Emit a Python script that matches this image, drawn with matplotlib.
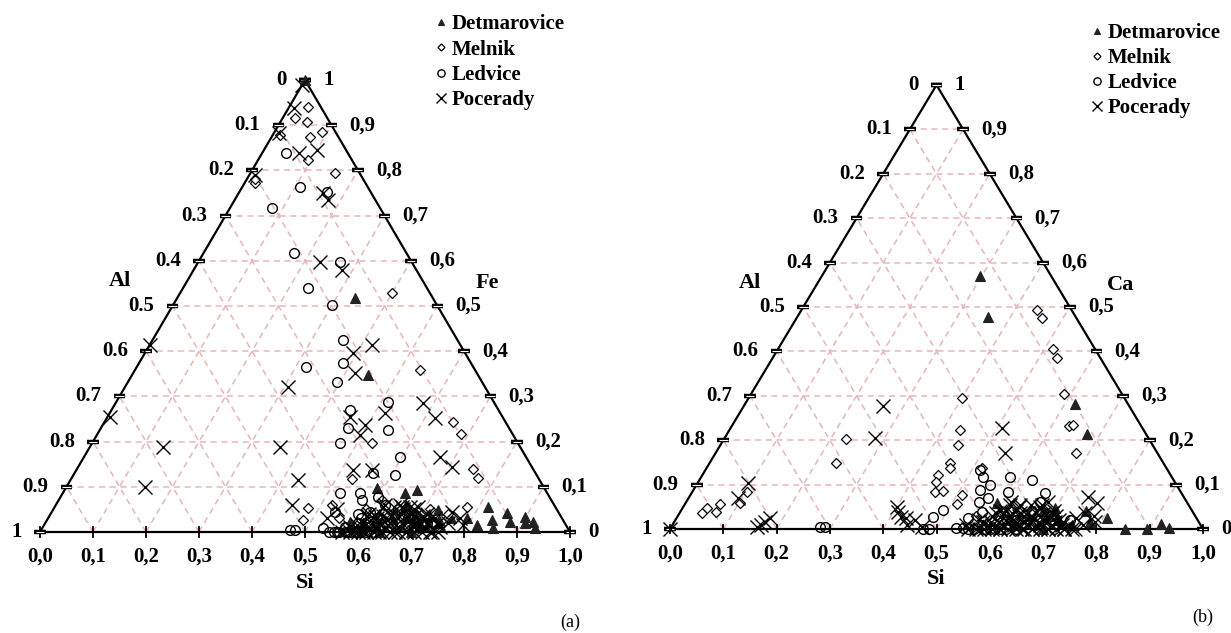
import numpy as np
import matplotlib
matplotlib.use("Agg")
import matplotlib.pyplot as plt
from matplotlib.lines import Line2D

plt.rcParams['font.family'] = ['Liberation Serif', 'DejaVu Serif']

# ---------------- data: (Si, Fe) fractions, panel (a) ----------------
det_a_si = [0.00, 0.335, 0.445, 0.574, 0.588, 0.646, 0.665, 0.727, 0.74, 0.818, 0.84, 0.86,
            0.876, 0.898, 0.905, 0.919, 0.93, 0.85, 0.79, 0.817,
            0.60, 0.62, 0.63, 0.65, 0.66, 0.68, 0.69, 0.71, 0.72, 0.74, 0.64, 0.67, 0.70, 0.61, 0.76]
det_a_fe = [1.00, 0.518, 0.347, 0.022, 0.097, 0.086, 0.093, 0.049, 0.027, 0.055, 0.027, 0.042,
            0.022, 0.033, 0.020, 0.022, 0.009, 0.009, 0.031, 0.015,
            0.02, 0.04, 0.01, 0.03, 0.06, 0.02, 0.04, 0.01, 0.03, 0.02, 0.00, 0.05, 0.00, 0.01, 0.03]

mel_a_si = [0.036, 0.05, 0.09, 0.072, 0.023, 0.094, 0.16, 0.02, 0.015, 0.014,
            0.40, 0.538, 0.658, 0.686, 0.748, 0.767, 0.528, 0.53, 0.48, 0.483, 0.778, 0.52,
            0.55, 0.57, 0.59, 0.61, 0.63, 0.65, 0.67, 0.69, 0.71, 0.73, 0.75, 0.62]
mel_a_fe = [0.94, 0.907, 0.885, 0.874, 0.916, 0.823, 0.794, 0.772, 0.78, 0.878,
            0.529, 0.358, 0.243, 0.217, 0.139, 0.119, 0.197, 0.117, 0.053, 0.027, 0.055, 0.06,
            0.03, 0.01, 0.05, 0.07, 0.03, 0.02, 0.04, 0.01, 0.05, 0.02, 0.04, 0.00]

led_a_si = [0.045, 0.11, 0.08, 0.166, 0.17, 0.236, 0.268, 0.30, 0.36, 0.32, 0.385, 0.394,
            0.513, 0.45, 0.466, 0.544, 0.468, 0.596, 0.607, 0.563, 0.523, 0.561, 0.572, 0.535,
            0.47, 0.48, 0.53, 0.60,
            0.56, 0.57, 0.58, 0.59, 0.60, 0.61, 0.62, 0.63, 0.64, 0.66, 0.68, 0.70, 0.72, 0.58, 0.65,
            0.545, 0.555, 0.565, 0.575, 0.585, 0.595, 0.605, 0.615, 0.59, 0.60, 0.62]
led_a_fe = [0.838, 0.763, 0.717, 0.752, 0.617, 0.54, 0.597, 0.502, 0.425, 0.365, 0.374, 0.332,
            0.288, 0.27, 0.23, 0.226, 0.197, 0.166, 0.126, 0.13, 0.086, 0.086, 0.071, 0.044,
            0.004, 0.004, 0.008, 0.077,
            0.00, 0.01, 0.00, 0.02, 0.00, 0.01, 0.03, 0.00, 0.02, 0.01, 0.03, 0.01, 0.02, 0.04, 0.05,
            0.00, 0.00, 0.00, 0.00, 0.00, 0.00, 0.00, 0.00, 0.03, 0.045, 0.06]

poc_a_si = [0.0, 0.01, 0.01, 0.07, 0.10, 0.01, 0.159, 0.176, 0.23, 0.28, 0.393, 0.419, 0.418,
            0.58, 0.619, 0.458, 0.495, 0.496, 0.52, 0.672, 0.705, 0.522, 0.558, 0.0, 0.005,
            0.138, 0.148, 0.307, 0.359, 0.43, 0.445, 0.755, 0.777, 0.79, 0.526, 0.536, 0.74, 0.75,
            0.58, 0.60, 0.61, 0.62, 0.63, 0.64, 0.65, 0.66, 0.67, 0.68, 0.69, 0.70, 0.71, 0.72,
            0.73, 0.74, 0.62, 0.64, 0.66, 0.68, 0.70, 0.72, 0.63, 0.65, 0.67, 0.69, 0.71, 0.60,
            0.75, 0.76,
            0.57, 0.585, 0.60, 0.615, 0.63, 0.645, 0.66, 0.675, 0.69, 0.705, 0.72, 0.735,
            0.59, 0.605, 0.62, 0.635, 0.65, 0.665, 0.68, 0.695, 0.71, 0.725,
            0.60, 0.615, 0.63, 0.645, 0.66, 0.675, 0.69, 0.705,
            0.62, 0.64, 0.655, 0.67, 0.685]
poc_a_fe = [0.99, 0.938, 0.883, 0.839, 0.845, 0.79, 0.75, 0.735, 0.597, 0.58, 0.396, 0.414, 0.352,
            0.285, 0.252, 0.254, 0.237, 0.215, 0.263, 0.166, 0.144, 0.137, 0.137, 0.414, 0.254,
            0.188, 0.10, 0.321, 0.188, 0.115, 0.06, 0.044, 0.031, 0.015, 0.031, 0.05, 0.02, 0.0,
            0.01, 0.02, 0.00, 0.03, 0.01, 0.04, 0.02, 0.05, 0.01, 0.03, 0.00, 0.02, 0.04, 0.01,
            0.03, 0.00, 0.06, 0.00, 0.03, 0.05, 0.01, 0.02, 0.02, 0.06, 0.00, 0.02, 0.03, 0.04,
            0.01, 0.02,
            0.00, 0.00, 0.00, 0.00, 0.00, 0.00, 0.00, 0.00, 0.00, 0.00, 0.00, 0.00,
            0.015, 0.015, 0.015, 0.015, 0.015, 0.015, 0.015, 0.015, 0.015, 0.015,
            0.035, 0.035, 0.035, 0.035, 0.035, 0.035, 0.035, 0.035,
            0.055, 0.055, 0.055, 0.055, 0.055]

# ---------------- data: (Si, Ca) fractions, panel (b) ----------------
det_b_si = [0.297, 0.358, 0.619, 0.675, 0.854, 0.895, 0.915, 0.935, 0.699, 0.807, 0.584,
            0.66, 0.72, 0.75, 0.64, 0.68, 0.78, 0.70, 0.62, 0.76]
det_b_ca = [0.57, 0.478, 0.282, 0.214, 0.0, 0.0, 0.011, 0.002, 0.047, 0.025, 0.059,
            0.03, 0.02, 0.01, 0.01, 0.04, 0.015, 0.0, 0.03, 0.04]

mel_b_si = [0.042, 0.046, 0.067, 0.066, 0.102, 0.103, 0.229, 0.237, 0.442, 0.46, 0.516, 0.533,
            0.40, 0.587, 0.633, 0.64, 0.676, 0.433, 0.446, 0.45, 0.456, 0.442, 0.446, 0.455,
            0.51, 0.51, 0.517, 0.47, 0.56, 0.62, 0.66, 0.70]
mel_b_ca = [0.036, 0.047, 0.038, 0.056, 0.059, 0.083, 0.203, 0.149, 0.493, 0.475, 0.405, 0.385,
            0.295, 0.304, 0.232, 0.234, 0.171, 0.223, 0.189, 0.149, 0.137, 0.122, 0.106, 0.083,
            0.077, 0.056, 0.137, 0.086, 0.03, 0.02, 0.04, 0.01]

led_b_si = [0.279, 0.288, 0.475, 0.485, 0.49, 0.48, 0.535, 0.548, 0.566, 0.547, 0.515, 0.529,
            0.538, 0.55, 0.561, 0.58, 0.593, 0.624, 0.663, 0.664, 0.55,
            0.58, 0.60, 0.62, 0.64, 0.66, 0.68, 0.70, 0.72, 0.74, 0.60,
            0.56, 0.57, 0.59, 0.61, 0.63, 0.65]
led_b_ca = [0.005, 0.005, 0.0, 0.0, 0.043, 0.027, 0.002, 0.002, 0.038, 0.025, 0.133, 0.117,
            0.088, 0.099, 0.07, 0.117, 0.083, 0.11, 0.081, 0.061, 0.06,
            0.01, 0.03, 0.0, 0.02, 0.04, 0.01, 0.03, 0.0, 0.02, 0.0,
            0.0, 0.0, 0.0, 0.0, 0.0, 0.0]

poc_b_si = [0.0, 0.094, 0.093, 0.165, 0.17, 0.175, 0.16, 0.261, 0.282, 0.409, 0.42, 0.43, 0.45,
            0.51, 0.543, 0.748, 0.771, 0.76, 0.78, 0.75, 0.79, 0.40, 0.44, 0.47,
            0.55, 0.57, 0.58, 0.59, 0.60, 0.61, 0.62, 0.63, 0.64, 0.65, 0.66, 0.67, 0.68, 0.69,
            0.70, 0.71, 0.72, 0.73, 0.74, 0.61, 0.63, 0.65, 0.67, 0.69, 0.71, 0.60, 0.62, 0.64,
            0.66, 0.68, 0.70, 0.76, 0.77,
            0.56, 0.575, 0.59, 0.605, 0.62, 0.635, 0.65, 0.665, 0.68, 0.695, 0.71, 0.725, 0.74, 0.755,
            0.58, 0.595, 0.61, 0.625, 0.64, 0.655, 0.67, 0.685, 0.70, 0.715, 0.73,
            0.595, 0.61, 0.625, 0.64, 0.655, 0.67, 0.685, 0.70,
            0.61, 0.63, 0.65, 0.67]
poc_b_ca = [0.0, 0.104, 0.07, 0.01, 0.016, 0.025, 0.005, 0.277, 0.205, 0.038, 0.027, 0.025, 0.02,
            0.227, 0.171, 0.072, 0.059, 0.036, 0.03, 0.025, 0.015, 0.05, 0.01, 0.005,
            0.01, 0.02, 0.00, 0.03, 0.01, 0.04, 0.02, 0.05, 0.01, 0.03, 0.00, 0.02, 0.06, 0.01,
            0.03, 0.00, 0.02, 0.01, 0.00, 0.06, 0.04, 0.01, 0.05, 0.02, 0.03, 0.04, 0.00, 0.03,
            0.02, 0.00, 0.04, 0.00, 0.01,
            0.00, 0.00, 0.00, 0.00, 0.00, 0.00, 0.00, 0.00, 0.00, 0.00, 0.00, 0.00, 0.00, 0.00,
            0.015, 0.015, 0.015, 0.015, 0.015, 0.015, 0.015, 0.015, 0.015, 0.015, 0.015,
            0.035, 0.035, 0.035, 0.035, 0.035, 0.035, 0.035, 0.035,
            0.055, 0.055, 0.055, 0.055]

names = ['Detmarovice', 'Melnik', 'Ledvice', 'Pocerady']
ticks = np.round(np.arange(0, 11) / 10, 1)

GRID = '#e6b6b6'
FS = 15


def tern(si, top):
    si = np.asarray(si, float)
    top = np.asarray(top, float)
    return si + top / 2, top


def draw_panel(ax, series, top_name, legend_xy, tag):
    ax.set_axis_off()
    # dashed grid
    for t in ticks[1:-1]:
        ax.plot([t / 2, 1 - t / 2], [t, t], ls=(0, (4, 3)), color=GRID, lw=1.1, zorder=1)
        ax.plot([t, t + (1 - t) / 2], [0, 1 - t], ls=(0, (4, 3)), color=GRID, lw=1.1, zorder=1)
        ax.plot([1 - t, (1 - t) / 2], [0, 1 - t], ls=(0, (4, 3)), color=GRID, lw=1.1, zorder=1)
    # frame
    ax.plot([0, 1, 0.5, 0], [0, 0, 1, 0], color='black', lw=1.6, zorder=2)
    # ticks and labels
    for t in ticks:
        # left edge (Al)
        xl, yl = (1 - t) / 2, 1 - t
        ax.plot([xl - 0.011, xl + 0.011], [yl, yl], color='black', lw=3.2, zorder=3,
                solid_capstyle='butt')
        ax.plot([xl - 0.008, xl + 0.008], [yl, yl], color='white', lw=0.8, zorder=3,
                solid_capstyle='butt')
        lab = '0' if t == 0 else ('1' if t == 1 else f'{t:.1f}')
        ax.text(xl - 0.034, yl, lab, ha='right', va='center', fontsize=FS, fontweight='bold')
        # right edge (Fe / Ca)
        xr, yr = 1 - t / 2, t
        ax.plot([xr - 0.011, xr + 0.011], [yr, yr], color='black', lw=3.2, zorder=3,
                solid_capstyle='butt')
        ax.plot([xr - 0.008, xr + 0.008], [yr, yr], color='white', lw=0.8, zorder=3,
                solid_capstyle='butt')
        lab = '0' if t == 0 else ('1' if t == 1 else f'{t:.1f}'.replace('.', ','))
        ax.text(xr + 0.034, yr, lab, ha='left', va='center', fontsize=FS, fontweight='bold')
        # bottom (Si)
        ax.plot([t, t], [-0.01, 0.01], color='black', lw=1.3, zorder=3)
        ax.text(t, -0.055, f'{t:.1f}'.replace('.', ','), ha='center', va='center',
                fontsize=FS, fontweight='bold')
    ax.text(0.15, 0.555, 'Al', ha='center', va='center', fontsize=FS + 1, fontweight='bold')
    ax.text(0.845, 0.55, top_name, ha='center', va='center', fontsize=FS + 1, fontweight='bold')
    ax.text(0.5, -0.112, 'Si', ha='center', va='center', fontsize=FS + 1, fontweight='bold')
    ax.text(1.0, -0.2, tag, ha='center', va='center', fontsize=13)

    styles = [dict(marker='^', ms=6.5, mfc='#222222', mec='#222222', mew=0.8),
              dict(marker='D', ms=4.8, mfc='white', mec='black', mew=0.9),
              dict(marker='o', ms=7, mfc='none', mec='black', mew=1.0),
              dict(marker='x', ms=10, mec='black', mew=1.0)]
    for (si, top), st in zip(series, styles):
        x, y = tern(si, top)
        ax.plot(x, y, ls='none', zorder=4, **st)

    handles = [Line2D([], [], ls='none', **{**st, 'ms': st['ms'] * 0.75}) for st in styles]
    ax.legend(handles, names, loc='upper left', bbox_to_anchor=legend_xy,
              bbox_transform=ax.transData, frameon=False, borderpad=0, borderaxespad=0,
              handlelength=0.6, handletextpad=0.2, labelspacing=0.25,
              prop=dict(family='Liberation Serif', weight='bold', size=FS))


fig = plt.figure(figsize=(12.31, 6.33), dpi=100)

ax_a = fig.add_axes([0, 0, 0.5, 1])
ax_a.set_xlim((0 - 40) / 530, (615.5 - 40) / 530)
ax_a.set_ylim((532 - 633) / 452, 532 / 452)
draw_panel(ax_a, [(det_a_si, det_a_fe), (mel_a_si, mel_a_fe), (led_a_si, led_a_fe),
                  (poc_a_si, poc_a_fe)], 'Fe', (0.745, 1.145), '(a)')

ax_b = fig.add_axes([0.5, 0, 0.5, 1])
ax_b.set_xlim((615.5 - 670) / 533, (1231 - 670) / 533)
ax_b.set_ylim((529 - 633) / 444, 529 / 444)
draw_panel(ax_b, [(det_b_si, det_b_ca), (mel_b_si, mel_b_ca), (led_b_si, led_b_ca),
                  (poc_b_si, poc_b_ca)], 'Ca', (0.79, 1.14), '(b)')

fig.savefig('out.png', dpi=100)
